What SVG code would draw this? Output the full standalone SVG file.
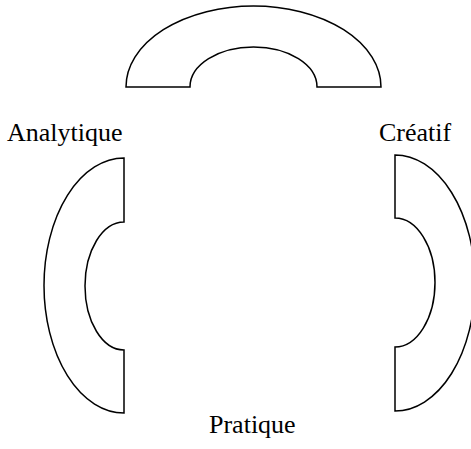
<svg xmlns="http://www.w3.org/2000/svg" width="471" height="449" viewBox="0 0 471 449">
<style>
.shape{fill:#fff;stroke:#000;stroke-width:1.5;stroke-linejoin:miter}
.lbl{font-family:"Liberation Serif","Times New Roman",serif;font-size:26px;fill:#000}
</style>
<rect width="471" height="449" fill="#fff"/>
<g id="top">
<path class="shape" d="M126,87 A127.5,81 0 0 1 381,87 L317,87 A63.5,40 0 0 0 190,87 Z"/>
</g>
<g id="left">
<path class="shape" d="M124,158 A80,127.5 0 0 0 124,413 L124,350 A39,64 0 0 1 124,222 Z"/>
</g>
<g id="right">
<path class="shape" d="M395,155 A80,128 0 0 1 395,411 L395,347 A40,64.5 0 0 0 395,218 Z"/>
</g>
<g id="labels">
<text class="lbl" x="7" y="141">Analytique</text>
<text class="lbl" x="379" y="141">Créatif</text>
<text class="lbl" x="209" y="433">Pratique</text>
</g>
<g id="connectors"></g>
</svg>
